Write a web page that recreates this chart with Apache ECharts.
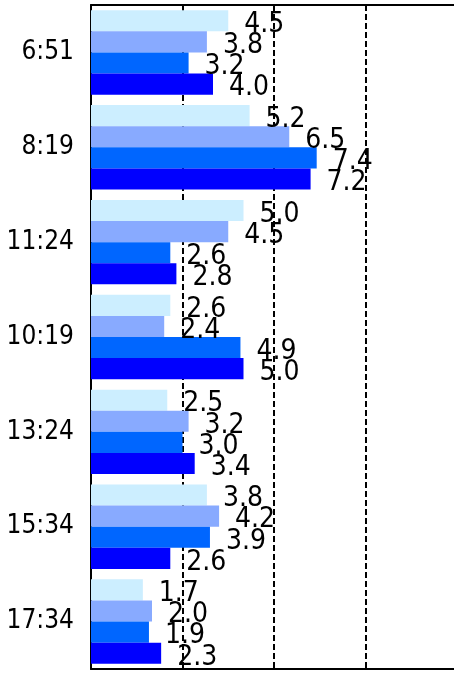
<!DOCTYPE html>
<html><head><meta charset="utf-8">
<script src="https://cdn.jsdelivr.net/npm/echarts@6/dist/echarts.min.js"></script>
<style>html,body{margin:0;padding:0;background:#fff}#c{width:454px;height:673px}</style>
</head><body><div id="c"></div>
<script>
const categories = ['6:51','8:19','11:24','10:19','13:24','15:34','17:34'];
const seriesA = [4.5, 5.2, 5.0, 2.6, 2.5, 3.8, 1.7];
const seriesB = [3.8, 6.5, 4.5, 2.4, 3.2, 4.2, 2.0];
const seriesC = [3.2, 7.4, 2.6, 4.9, 3.0, 3.9, 1.9];
const seriesD = [4.0, 7.2, 2.8, 5.0, 3.4, 2.6, 2.3];
const colors = ['#cceeff','#88aaff','#0066ff','#0000ff'];
const FONT = '"Liberation Sans Narrow", "DejaVu Sans Condensed", "Liberation Sans", sans-serif';
const chart = echarts.init(document.getElementById('c'));
const mk = (name, data, i) => ({
  name, type: 'bar', data, barGap: '0%', barCategoryGap: '11%',
  itemStyle: { color: colors[i] },
  label: { show: true, position: 'right', distance: 16, offset: [0, 4],
    formatter: p => p.value.toFixed(1), color: '#000', fontSize: 28, fontFamily: FONT },
  z: 3
});
chart.setOption({
  animation: false,
  grid: { left: 91, width: 366, top: 5, bottom: 4, show: false, containLabel: false, outerBoundsMode: 'none' },
  xAxis: [
    { type: 'value', min: 0, max: 12, interval: 3, position: 'bottom',
      axisLine: { show: true, onZero: false, lineStyle: { color: '#000', width: 2 } },
      axisTick: { show: false }, axisLabel: { show: false },
      splitLine: { show: true, lineStyle: { color: '#000', width: 2, type: [6, 3] } } },
    { type: 'value', min: 0, max: 12, interval: 3, position: 'top',
      axisLine: { show: true, onZero: false, lineStyle: { color: '#000', width: 2 } },
      axisTick: { show: false }, axisLabel: { show: false }, splitLine: { show: false } }
  ],
  yAxis: { type: 'category', data: categories, inverse: true,
    axisLine: { show: true, lineStyle: { color: '#000', width: 2 } },
    axisTick: { show: false },
    axisLabel: { color: '#000', fontSize: 26, fontFamily: FONT, margin: 17, padding: [5, 0, 0, 0] } },
  series: [mk('A', seriesA, 0), mk('B', seriesB, 1), mk('C', seriesC, 2), mk('D', seriesD, 3)]
});
</script></body></html>
